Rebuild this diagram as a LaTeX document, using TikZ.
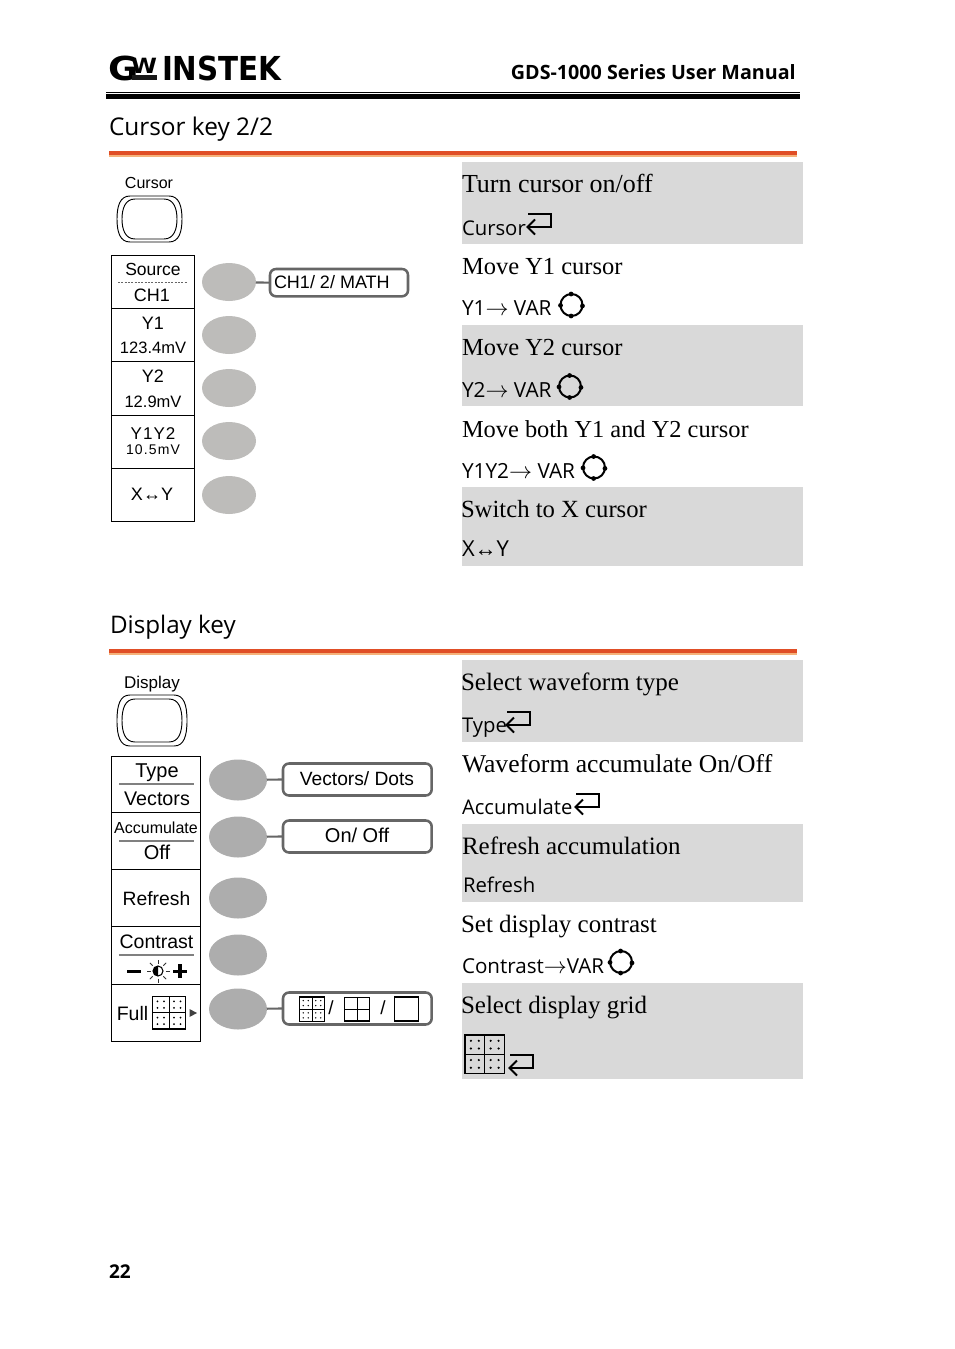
\documentclass[tikz,border=0pt]{standalone}
\usepackage{fontspec}
\setmainfont{Liberation Sans}
\newfontfamily\ar{Liberation Sans}
\newfontfamily\se{Liberation Serif}
\newfontfamily\ui{Open Sans}
\newfontfamily\logof[FakeStretch=1.12]{DejaVu Sans}
\newfontfamily\logon[FakeStretch=0.89]{DejaVu Sans}
\newcommand{\px}[1]{\pgfmathsetmacro\tmpfs{#1*0.75}\fontsize{\tmpfs pt}{\tmpfs pt}\selectfont}
\newcommand{\arr}{\mbox{\px{23}$\rightarrow$}}
\definecolor{band}{HTML}{D9D9D9}
\definecolor{keyA}{HTML}{BDBCBA}
\definecolor{keyB}{HTML}{ADADAD}
\definecolor{optline}{HTML}{666666}
\definecolor{rulea}{HTML}{E04E26}
\definecolor{ruleb}{HTML}{F5B27A}
\tikzset{
 x=0.75pt,y=-0.75pt,
 txt/.style={inner sep=0pt,outer sep=0pt,anchor=base,text=black},
 ltxt/.style={inner sep=0pt,outer sep=0pt,anchor=base west,text=black},
 menubox/.style={draw=black,line width=0.75pt,fill=white,inner sep=0pt,outer sep=0pt,anchor=north west},
 softA/.style={ellipse,fill=keyA,inner sep=0pt,outer sep=0pt,minimum width=40.5pt,minimum height=28.5pt},
 softB/.style={ellipse,fill=keyB,inner sep=0pt,outer sep=0pt,minimum width=43.5pt,minimum height=30.75pt},
 optbox/.style={draw=optline,line width=1.9pt,rounded corners=4.5pt,fill=white,inner sep=0pt,outer sep=0pt,anchor=north west},
 conn/.style={draw=optline,line width=1.6pt},
 sep/.style={draw=gray,line width=0.8pt},
}
\usetikzlibrary{shapes.geometric,positioning}
% bulged panel key: centre, half width, half height
\newcommand{\keyshape}[4]{%
 \draw[black,line width=0.7pt,shift={(#1,#2)}]
  (-#3+13,-#4) -- (#3-13,-#4)
  .. controls (#3-3,-#4) and (#3,-#4+10) .. (#3,0)
  .. controls (#3,#4-10) and (#3-3,#4) .. (#3-13,#4)
  -- (-#3+13,#4)
  .. controls (-#3+3,#4) and (-#3,#4-10) .. (-#3,0)
  .. controls (-#3,-#4+10) and (-#3+3,-#4) .. (-#3+13,-#4) -- cycle;}
% enter arrow: right end x, top y
\newcommand{\enterarrow}[2]{%
 \draw[black,line width=1.5pt,line join=miter,shift={(#1,#2)}]
  (-23,0) -- (0,0) -- (0,13) -- (-23,13);
 \draw[black,line width=1.5pt,shift={(#1,#2)}] (-16,5.5) -- (-23.5,13) -- (-16,20.5);}
% VAR knob
\newcommand{\knob}[2]{%
 \draw[black,line width=1.5pt] (#1,#2) circle[radius=11];
 \foreach \a in {5,92,178,268}{\fill[black] (#1,#2) ++(\a:11) circle[radius=2.4];}}
% grid icon with dots
\newcommand{\dotgrid}[6]{% x0 y0 x1 y1 linewidth dotradius
 \draw[black,line width=#5] (#1,#2) rectangle (#3,#4);
 \draw[black,line width=0.5pt] ({(#1+#3)/2},#2) -- ({(#1+#3)/2},#4);
 \draw[black,line width=#5] (#1,{(#2+#4)/2}) -- (#3,{(#2+#4)/2});
 \foreach \i in {0.15,0.35,0.65,0.85}{\foreach \j in {0.15,0.35,0.65,0.85}{%
  \fill[black] ({#1+\i*(#3-#1)},{#2+\j*(#4-#2)}) circle[radius=#6];}}}
\begin{document}
\begin{tikzpicture}
\useasboundingbox (0,0) rectangle (954,1349);
\fill[white] (0,0) rectangle (954,1349);
% header
\node[ltxt] (logoG) at (108,80) {\logof\bfseries\px{33}G};
\node[ltxt] (logoW) at (131,73) {\logof\bfseries\px{21}W};
\fill[black!90] (132,75) rectangle (157,80);
\node[ltxt] (logoI) at (162,80) {\logon\bfseries\px{33}INSTEK};
\node[inner sep=0pt,anchor=base east] (title) at (796,79.5) {\ui\bfseries\px{19.7}GDS-1000 Series User Manual};
\fill[black] (106,91.7) rectangle (800,93);
\fill[black] (106,94) rectangle (800,99);
% section heads
\node[ltxt] (h1) at (109,135) {\ui\px{24.4}Cursor key 2/2};
\fill[rulea] (109,151) rectangle (797,155);
\fill[ruleb] (109,155) rectangle (797,157);
\node[ltxt] (h2) at (110,633) {\ui\px{24.2}Display key};
\fill[rulea] (109,649) rectangle (797,653);
\fill[ruleb] (109,653) rectangle (797,655);
% bands
\foreach \a/\b in {162/244,325/406,487/566,660/742,824/902,983/1079}{\fill[band] (462,\a) rectangle (803,\b);}
% ---- cursor panel
\node[txt] (kc) at (149,188.5) {\ar\px{16}Cursor};
\keyshape{149.5}{219}{32.5}{23}
\keyshape{149.5}{219}{27.5}{20}
\foreach \n/\a/\b in {1/255/53,2/308/53,3/361/54,4/415/53,5/468/53}{
 \node[menubox,minimum width=62.6pt,minimum height=\b*0.75pt] (mc\n) at (111,\a) {};}
\draw[black!60,dash pattern=on 1.5pt off 1pt,line width=0.7pt] (118,282) -- (188,282);
\node[txt] (c1a) at (153,275) {\ar\px{17.5}Source};
\node[txt] (c1b) at (152,301) {\ar\px{18}CH1};
\node[txt] (c2a) at (153,329) {\ar\px{18}Y1};
\node[txt] (c2b) at (153,353) {\ar\px{16.5}123.4mV};
\node[txt] (c3a) at (153,382) {\ar\px{18}Y2};
\node[txt] (c3b) at (153,407) {\ar\px{16.5}12.9mV};
\node[txt] (c4a) at (153,439) {\ar\px{17}\addfontfeature{LetterSpace=6}Y1Y2};
\node[txt] (c4b) at (153,454) {\ar\px{14}\addfontfeature{LetterSpace=8}10.5mV};
\node[txt] (c5a) at (152,500) {\ar\px{18}X↔Y};
\node[softA] (sc1) at (229,282) {};
\node[softA] (sc2) at (229,335) {};
\node[softA] (sc3) at (229,388) {};
\node[softA] (sc4) at (229,441) {};
\node[softA] (sc5) at (229,495) {};
\node[optbox,minimum width=103.5pt,minimum height=20.5pt] (oc1) at (270,269) {};
\draw[conn] (sc1) -- (oc1.west);
\node[ltxt] (oc1t) at (274,288) {\ar\px{18}CH1/ 2/ MATH};
% right column cursor
\node[ltxt] (r1) at (462,192.5) {\se\px{26}Turn cursor on/off};
\node[ltxt] (r1b) at (462,235) {\ui\px{20.3}Cursor};
\enterarrow{551}{214}
\node[ltxt] (r2) at (462,274.5) {\se\px{24.5}Move Y1 cursor};
\node[ltxt] (r2b) at (462,315) {\ui\px{20.8}Y1\arr{} VAR};
\knob{571.5}{305}
\node[ltxt] (r3) at (462,355.5) {\se\px{24.5}Move Y2 cursor};
\node[ltxt] (r3b) at (462,397) {\ui\px{20.8}Y2\arr{} VAR};
\knob{570}{386.5}
\node[ltxt] (r4) at (462,437.5) {\se\px{24.4}Move both Y1 and Y2 cursor};
\node[ltxt] (r4b) at (462,478) {\ui\px{20.8}Y1Y2\arr{} VAR};
\knob{594}{467.5}
\node[ltxt] (r5) at (461,517.5) {\se\px{24.7}Switch to X cursor};
\node[ltxt] (r5b) at (462,556) {\ui\px{22}X{\ar ↔}Y};
% ---- display panel
\node[txt] (kd) at (152,688) {\ar\px{17}Display};
\keyshape{152}{720.5}{35}{25.5}
\keyshape{152}{720.5}{30}{21.5}
\foreach \n/\a/\b in {1/756/56,2/812/57,3/869/57,4/926/58,5/984/57}{
 \node[menubox,minimum width=67pt,minimum height=\b*0.75pt] (md\n) at (111.5,\a) {};}
\draw[sep] (119,784) -- (194,784);
\draw[sep] (119,841) -- (194,841);
\draw[sep] (119,955) -- (194,955);
\node[txt] (d1a) at (157,777) {\ar\px{20}Type};
\node[txt] (d1b) at (157,805) {\ar\px{19.7}Vectors};
\node[txt] (d2a) at (156,833) {\ar\px{16}Accumulate};
\node[txt] (d2b) at (157,859) {\ar\px{20}Off};
\node[txt] (d3) at (156.5,905) {\ar\px{19.3}Refresh};
\node[txt] (d4a) at (156.5,948.5) {\ar\px{19.5}Contrast};
\fill[black] (127,969.5) rectangle (141,973);
\fill[black] (173,969.5) rectangle (187,973);
\fill[black] (178.2,964) rectangle (181.8,978);
\draw[black,line width=0.8pt] (158,971) circle[radius=5];
\fill[black] (158,966) arc[start angle=-90,end angle=-270,radius=5] -- cycle;
\foreach \a in {0,45,...,315}{\draw[black!80,line width=0.6pt] (158,971) ++(\a:7.5) -- ++(\a:4);}
\node[txt] (d5) at (132.5,1020) {\ar\px{19.5}Full};
\dotgrid{152.5}{996.5}{185.5}{1029}{0.8pt}{1}
\fill[black!75] (189.5,1009) -- (197,1013) -- (189.5,1017) -- cycle;
\node[softB] (sd1) at (238,780) {};
\node[softB] (sd2) at (238,837) {};
\node[softB] (sd3) at (238,898) {};
\node[softB] (sd4) at (238,955) {};
\node[softB] (sd5) at (238,1009) {};
\node[optbox,minimum width=111.5pt,minimum height=24pt] (od1) at (283,763.5) {};
\node[optbox,minimum width=111.5pt,minimum height=24pt] (od2) at (283,820.5) {};
\node[optbox,minimum width=111.5pt,minimum height=24pt] (od5) at (283,992.5) {};
\draw[conn] (sd1) -- (od1.west);
\draw[conn] (sd2) -- (od2.west);
\draw[conn] (sd5) -- (od5.west);
\node[txt] (od1t) at (357,785) {\ar\px{19.2}Vectors/ Dots};
\node[txt] (od2t) at (357,842) {\ar\px{20}On/ Off};
\dotgrid{299.5}{997}{324.5}{1021.5}{0.8pt}{0.8}
\node[txt] (sl1) at (331,1014) {\ar\px{19}/};
\draw[black,line width=0.7pt] (344.5,997) rectangle (369.5,1021);
\draw[black,line width=0.7pt] (357,997) -- (357,1021) (344.5,1009) -- (369.5,1009);
\draw[black,line width=1.2pt] (344.5,1021) -- (369.5,1021);
\node[txt] (sl2) at (383,1014) {\ar\px{19}/};
\draw[black,line width=1pt] (394.5,997) rectangle (418.5,1021);
% right column display
\node[ltxt] (s1) at (461,690.5) {\se\px{25}Select waveform type};
\node[ltxt] (s1b) at (462,732) {\ui\px{20.3}Type};
\enterarrow{530}{712}
\node[ltxt] (s2) at (462,772.5) {\se\px{25.6}Waveform accumulate On/Off};
\node[ltxt] (s2b) at (462,814) {\ui\px{20.2}Accumulate};
\enterarrow{599}{794}
\node[ltxt] (s3) at (462,854.5) {\se\px{25}Refresh accumulation};
\node[ltxt] (s3b) at (463,892) {\ui\px{20.3}Refresh};
\node[ltxt] (s4) at (461,932.5) {\se\px{25}Set display contrast};
\node[ltxt] (s4b) at (462,973) {\ui\px{20.6}Contrast\arr{}VAR};
\knob{621}{962}
\node[ltxt] (s5) at (461,1013.5) {\se\px{25}Select display grid};
\dotgrid{465}{1035}{504.5}{1073.5}{1pt}{1.2}
\enterarrow{533}{1055}
\node[ltxt] (pg) at (109,1278) {\ui\bfseries\px{19}22};
\end{tikzpicture}
\end{document}
